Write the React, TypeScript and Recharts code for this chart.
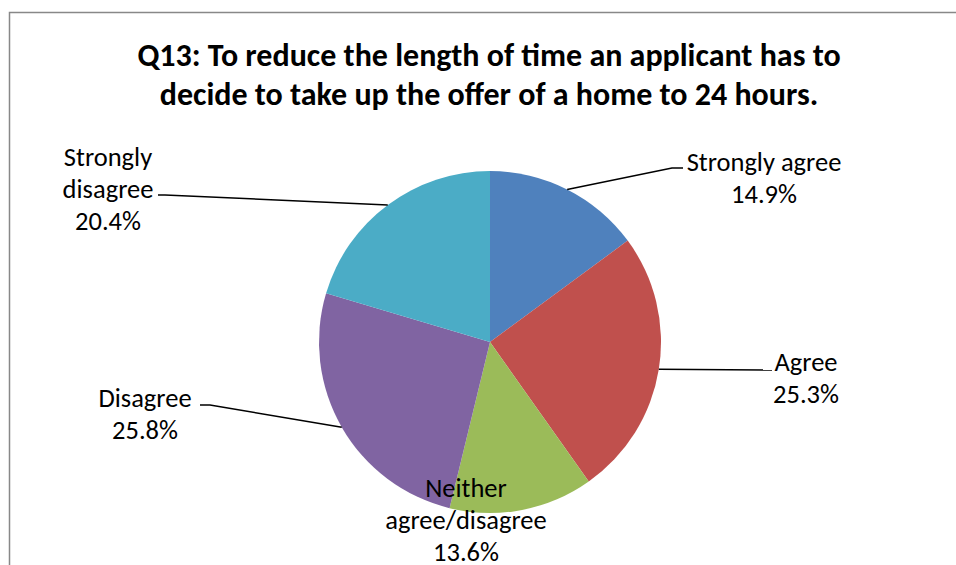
import React from "react";
import { PieChart, Pie, Cell } from "recharts";

const categories = ["Strongly agree", "Agree", "Neither agree/disagree", "Disagree", "Strongly disagree"];
const values = [14.9, 25.3, 13.6, 25.8, 20.4];
const colors = ["#4F81BD", "#C0504D", "#9BBB59", "#8064A2", "#4BACC6"];
const labelLines = [
  ["Strongly agree", "14.9%"],
  ["Agree", "25.3%"],
  ["Neither", "agree/disagree", "13.6%"],
  ["Disagree", "25.8%"],
  ["Strongly", "disagree", "20.4%"],
];
const titleLines = [
  "Q13: To reduce the length of time an applicant has to",
  "decide to take up the offer of a home to 24 hours.",
];

const data = categories.map((c, i) => ({ name: c, value: values[i] }));

// label layout relative to pie centre: text centre x, first line y, elbow point, end of horizontal
const layout = [
  { tx: 274, ty: -180, ex: 182, ey: -174, hx: 193, line: true },
  { tx: 316, ty: 20, ex: 282, ey: 28, hx: 282, line: true },
  { tx: -24, ty: 146, ex: 0, ey: 0, hx: 0, line: false },
  { tx: -345, ty: 56, ex: -280, ey: 63, hx: -290, line: true },
  { tx: -382, ty: -185, ex: -325, ey: -147, hx: -332, line: true },
];

const FONT = "Carlito, Calibri, 'Open Sans', sans-serif";
const LH = 32;

const renderLabel = (props: any) => {
  const { cx, cy, midAngle, outerRadius, index } = props;
  const L = layout[index];
  const rad = Math.PI / 180;
  const sx = cx + outerRadius * Math.cos(-midAngle * rad);
  const sy = cy + outerRadius * Math.sin(-midAngle * rad);
  const lines = labelLines[index];
  return (
    <g key={`lbl-${index}`}>
      {L.line && (
        <polyline
          points={`${sx},${sy} ${cx + L.ex},${cy + L.ey} ${cx + L.hx},${cy + L.ey}`}
          fill="none"
          stroke="#000"
          strokeWidth={1.5}
        />
      )}
      {lines.map((t, k) => (
        <text
          key={k}
          x={cx + L.tx}
          y={cy + L.ty + k * LH}
          textAnchor="middle"
          dominantBaseline="central"
          fontFamily={FONT}
          fontSize={26.5}
          fill="#000"
        >
          {t}
        </text>
      ))}
    </g>
  );
};

export default function App() {
  return (
    <div style={{ position: "absolute", left: 0, top: 0, width: 956, height: 565, background: "#fff", overflow: "hidden" }}>
      <svg width={956} height={565} style={{ position: "absolute", left: 0, top: 0 }}>
        <rect x={9.5} y={12.5} width={1000} height={600} fill="#fff" stroke="#888" strokeWidth={1.5} />
        {titleLines.map((t, i) => (
          <text
            key={i}
            x={489}
            y={55 + i * 39}
            textAnchor="middle"
            dominantBaseline="central"
            fontFamily={FONT}
            fontWeight="bold"
            fontSize={32}
            fill="#000"
          >
            {t}
          </text>
        ))}
      </svg>
      <div style={{ position: "absolute", left: 0, top: 0 }}>
        <PieChart width={956} height={565} margin={{ top: 0, right: 0, bottom: 0, left: 0 }}>
          <Pie
            data={data}
            dataKey="value"
            nameKey="name"
            cx={490}
            cy={342}
            outerRadius={171}
            startAngle={90}
            endAngle={-270}
            stroke="none"
            label={renderLabel}
            labelLine={false}
            isAnimationActive={false}
          >
            {data.map((d, i) => (
              <Cell key={d.name} fill={colors[i]} />
            ))}
          </Pie>
        </PieChart>
      </div>
    </div>
  );
}
